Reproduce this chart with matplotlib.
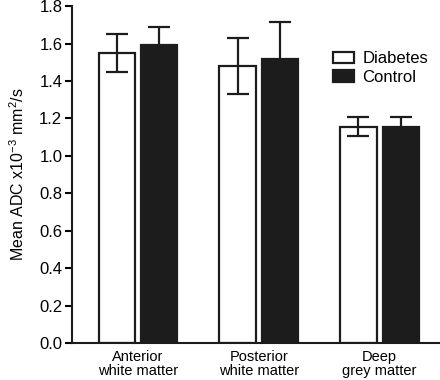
import numpy as np
import matplotlib.pyplot as plt

plt.rcParams['font.family'] = ['Liberation Sans', 'DejaVu Sans']
plt.rcParams['mathtext.default'] = 'regular'

regions = ["Anterior\nwhite matter", "Posterior\nwhite matter", "Deep\ngrey matter"]
diabetes = [1.55, 1.48, 1.155]
diabetes_err = [0.10, 0.15, 0.05]
control = [1.59, 1.515, 1.155]
control_err = [0.10, 0.20, 0.05]
yticks = [0.0, 0.2, 0.4, 0.6, 0.8, 1.0, 1.2, 1.4, 1.6, 1.8]

fig = plt.figure(figsize=(4.4, 3.8), dpi=100)
ax = fig.add_axes([0.1636, 0.0974, 0.8364, 0.8866])

x = np.arange(len(regions))
w = 0.30
off = 0.175

ax.bar(x - off, diabetes, w, color='white', edgecolor='#1c1c1c', linewidth=1.6,
       yerr=diabetes_err, capsize=8, error_kw=dict(ecolor='#1c1c1c', elinewidth=1.6, capthick=1.6),
       label='Diabetes', zorder=2)
ax.bar(x + off, control, w, color='#1c1c1c', edgecolor='#1c1c1c', linewidth=1.6,
       yerr=control_err, capsize=8, error_kw=dict(ecolor='#1c1c1c', elinewidth=1.6, capthick=1.6),
       label='Control', zorder=2)

ax.set_ylim(0, 1.8)
ax.set_xlim(-0.545, 2.5)
ax.set_yticks(yticks)
ax.set_yticklabels([f"{v:.1f}" for v in yticks], fontsize=12)
ax.set_xticks(x)
ax.set_xticklabels(regions, fontsize=10.5, linespacing=1.0)
ax.tick_params(axis='x', length=0, pad=5)
ax.tick_params(axis='y', length=5, width=1.5, direction='out', pad=2)

for s in ['top', 'right']:
    ax.spines[s].set_visible(False)
for s in ['left', 'bottom']:
    ax.spines[s].set_linewidth(1.5)
    ax.spines[s].set_color('#1c1c1c')

ax.set_ylabel("Mean ADC x10$^{-3}$ mm$^{2}$/s", fontsize=11.5, labelpad=9)

ax.legend(loc='upper left', bbox_to_anchor=(0.69, 0.885), frameon=False, fontsize=12,
          handlelength=1.3, handleheight=0.65, handletextpad=0.5, labelspacing=0.2,
          borderaxespad=0)

fig.savefig('out.png', dpi=100)
